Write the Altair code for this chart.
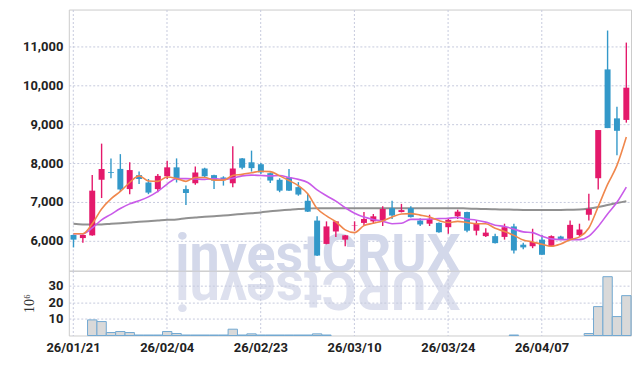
import altair as alt
import pandas as pd

dates = ["26/01/21", "26/01/22", "26/01/23", "26/01/26", "26/01/27", "26/01/28", "26/01/29", "26/01/30",
         "26/02/02", "26/02/03", "26/02/04", "26/02/05", "26/02/06", "26/02/09", "26/02/10", "26/02/11",
         "26/02/12", "26/02/13", "26/02/19", "26/02/20", "26/02/23", "26/02/24", "26/02/25", "26/02/26",
         "26/02/27", "26/03/03", "26/03/04", "26/03/05", "26/03/06", "26/03/09", "26/03/10", "26/03/11",
         "26/03/12", "26/03/13", "26/03/16", "26/03/17", "26/03/18", "26/03/19", "26/03/20", "26/03/23",
         "26/03/24", "26/03/25", "26/03/26", "26/03/27", "26/03/30", "26/03/31", "26/04/01", "26/04/02",
         "26/04/03", "26/04/06", "26/04/07", "26/04/08", "26/04/09", "26/04/10", "26/04/13", "26/04/14",
         "26/04/15", "26/04/16", "26/04/17", "26/04/20"]
tick_dates = ["26/01/21", "26/02/04", "26/02/23", "26/03/10", "26/03/24", "26/04/07"]

open_ = [6150, 6070, 6140, 7570, 7770, 7850, 7330, 7690, 7500, 7330,
         7660, 7890, 7330, 7480, 7860, 7690, 7630, 7480, 8120, 8020,
         7970, 7740, 7570, 7630, 7380, 7030, 6520, 5920, 6240, 6030,
         6390, 6460, 6500, 6520, 6840, 6740, 6840, 6520, 6440, 6460,
         6350, 6630, 6740, 6260, 6120, 6120, 6100, 6370, 5900, 5860,
         6030, 5860, 6110, 6050, 6150, 6670, 7610, 10410, 9150, 9110]
high = [6160, 6160, 7690, 8500, 8120, 8230, 8020, 7780, 7590, 7720,
        8060, 8120, 7420, 7910, 7880, 7700, 7660, 8430, 8130, 8320,
        8000, 7760, 7610, 7850, 7510, 7210, 6630, 6500, 6510, 6150,
        6500, 6740, 6690, 6890, 7030, 6950, 6890, 6580, 6670, 6470,
        6580, 6800, 6750, 6520, 6320, 6180, 6440, 6440, 5950, 6310,
        6150, 6140, 6130, 6520, 6440, 7210, 8850, 11410, 9450, 11100]
low = [5830, 5950, 6130, 7100, 7610, 7260, 7200, 7460, 7200, 7250,
       7590, 7500, 6920, 7440, 7620, 7330, 7420, 7380, 7840, 7780,
       7720, 7490, 7250, 7280, 7160, 6740, 5610, 5910, 6100, 5860,
       6260, 6390, 6450, 6380, 6560, 6730, 6600, 6380, 6380, 6210,
       6180, 6560, 6220, 6140, 6100, 5930, 6030, 5670, 5780, 5810,
       5640, 5860, 6020, 6040, 6120, 6520, 7320, 8900, 8200, 9040]
close = [6030, 6150, 7290, 7850, 7750, 7320, 7820, 7590, 7240, 7670,
         7890, 7610, 7230, 7760, 7660, 7550, 7590, 7860, 7880, 7870,
         7760, 7550, 7290, 7290, 7190, 6750, 5620, 6370, 6500, 6140,
         6400, 6560, 6630, 6820, 6650, 6790, 6610, 6420, 6560, 6220,
         6540, 6750, 6260, 6450, 6210, 5940, 6350, 5750, 5830, 5970,
         5640, 6120, 6030, 6410, 6290, 6820, 8850, 8900, 8830, 9940]
ma_short = [6180, 6180, 6440, 6820, 7080, 7270, 7500, 7670, 7540, 7530,
            7640, 7600, 7530, 7630, 7630, 7560, 7560, 7680, 7710, 7750,
            7790, 7780, 7670, 7550, 7420, 7210, 6830, 6640, 6490, 6280,
            6210, 6390, 6450, 6510, 6610, 6690, 6700, 6660, 6610, 6520,
            6470, 6500, 6470, 6440, 6440, 6320, 6240, 6140, 6020, 5970,
            5910, 5860, 5920, 6030, 6100, 6330, 6880, 7450, 7940, 8670]
ma_mid = [6180, 6180, 6330, 6540, 6680, 6830, 6950, 7030, 7130, 7270,
          7460, 7600, 7600, 7590, 7580, 7600, 7580, 7610, 7670, 7690,
          7680, 7670, 7680, 7630, 7580, 7500, 7310, 7160, 7020, 6850,
          6710, 6610, 6550, 6500, 6440, 6450, 6550, 6550, 6560, 6570,
          6580, 6600, 6560, 6530, 6480, 6400, 6370, 6300, 6230, 6210,
          6120, 6050, 6030, 6030, 6030, 6120, 6370, 6690, 6990, 7380]
ma_long = [6440, 6420, 6420, 6420, 6440, 6450, 6470, 6490, 6500, 6520,
           6540, 6550, 6580, 6600, 6620, 6630, 6650, 6670, 6690, 6710,
           6730, 6760, 6780, 6800, 6820, 6830, 6840, 6840, 6840, 6840,
           6840, 6840, 6840, 6840, 6840, 6840, 6840, 6840, 6840, 6840,
           6840, 6840, 6830, 6825, 6815, 6810, 6805, 6800, 6795, 6795,
           6795, 6795, 6795, 6800, 6805, 6830, 6870, 6920, 6970, 7020]
volume_m = [None, None, 9.4, 8.4, 1.8, 2.4, 1.8, 0.3, 0.3, 0.3,
            2.4, 1.2, 0.3, 0.3, 0.3, 0.3, 0.3, 3.8, 0.3, 1.0,
            0.3, 0.3, 0.3, 0.3, 0.3, 0.3, 1.0, 0.3, None, None,
            None, None, None, None, None, None, None, None, None, None,
            None, None, None, None, None, None, None, 0.3, None, None,
            None, None, None, None, None, 1.2, 17.4, 35.4, 11.4, 24.0]

price_ticks = [6000, 7000, 8000, 9000, 10000, 11000]
vol_ticks = [10, 20, 30]

df = pd.DataFrame({"d": dates, "o": open_, "h": high, "l": low, "c": close,
                   "m5": ma_short, "m10": ma_mid, "mL": ma_long, "v": volume_m})
df["dir"] = ["up" if c >= o else "down" for o, c in zip(open_, close)]

RED = "#e4196b"
BLUE = "#3398c9"
LABEL_FONT = "Roboto"

xscale = alt.Scale(domain=dates, paddingInner=0, paddingOuter=0)

x_price = alt.X("d:O", sort=dates, scale=xscale, title=None,
                axis=alt.Axis(values=tick_dates, labels=False, ticks=False, domain=False,
                              grid=True, bandPosition=0.5))
yscale = alt.Scale(domain=[5230, 11950], nice=False, zero=False)
y_axis = alt.Axis(values=price_ticks, title=None, ticks=False, domain=False,
                  grid=True, labelPadding=6,
                  labelExpr="format(datum.value, ',.0f')")


def py(field):
    return alt.Y(field, scale=yscale, axis=y_axis, title=None)


base = alt.Chart(df)

wm = pd.DataFrame({"t": ["investCRUX"], "r": ["XURCtsevni"]})
watermark = alt.Chart(wm).mark_text(font="Roboto", fontWeight="bold", fontSize=54,
                                    color="#d3d8ea", align="center", baseline="alphabetic").encode(
    text="t:N", x=alt.value(250), y=alt.value(263))
reflection = alt.Chart(wm).mark_text(font="Roboto", fontWeight="bold", fontSize=54, angle=180,
                                     color="#dde0ee", align="center", baseline="alphabetic").encode(
    text="r:N", x=alt.value(250), y=alt.value(263))

color = alt.Color("dir:N", scale=alt.Scale(domain=["up", "down"], range=[RED, BLUE]), legend=None)

line_long = base.mark_line(color="#858585", strokeWidth=2, opacity=0.9, interpolate="monotone").encode(
    x=x_price, y=py("mL:Q"))
wick = base.mark_rule(strokeWidth=1.4).encode(
    x=x_price, y=py("l:Q"), y2="h:Q", color=color)
body = base.mark_bar(size=6).encode(
    x=x_price, y=py("o:Q"), y2="c:Q", color=color)
line_mid = base.mark_line(color="#c95be9", strokeWidth=1.6, interpolate="monotone").encode(
    x=x_price, y=py("m10:Q"))
line_short = base.mark_line(color="#f0874c", strokeWidth=1.6, interpolate="monotone").encode(
    x=x_price, y=py("m5:Q"))

price = alt.layer(watermark, reflection, line_long, wick, body, line_mid, line_short).properties(
    width=564, height=262)

x_vol = alt.X("d:O", sort=dates, scale=xscale, title=None,
              axis=alt.Axis(values=tick_dates, labelAngle=0, ticks=False, domain=False,
                            grid=True, bandPosition=0.5, labelPadding=6))
volume = base.mark_bar(fill="#d9d9d9", stroke="#72a9d2", strokeWidth=1).encode(
    x=x_vol,
    y=alt.Y("v:Q", scale=alt.Scale(domain=[0, 39], nice=False),
            axis=alt.Axis(values=vol_ticks, title="10⁶", ticks=False, domain=False, grid=True,
                          labelPadding=6, titlePadding=12, titleFont="Liberation Serif",
                          titleFontSize=14, titleFontWeight="normal", titleColor="#333"))
).properties(width=564, height=65)

chart = alt.vconcat(price, volume, spacing=0, bounds="flush").properties(
    padding={"left": 13, "top": 0, "right": 2, "bottom": 2}
).configure_view(stroke="#cccccc").configure_axis(
    labelFont=LABEL_FONT, labelFontSize=13, labelFontWeight="bold", labelColor="#222222",
    gridColor="#c6cadd", gridDash=[2, 2], gridWidth=1
)

chart.save("out.html", embed_options={"renderer": "svg", "actions": False})
